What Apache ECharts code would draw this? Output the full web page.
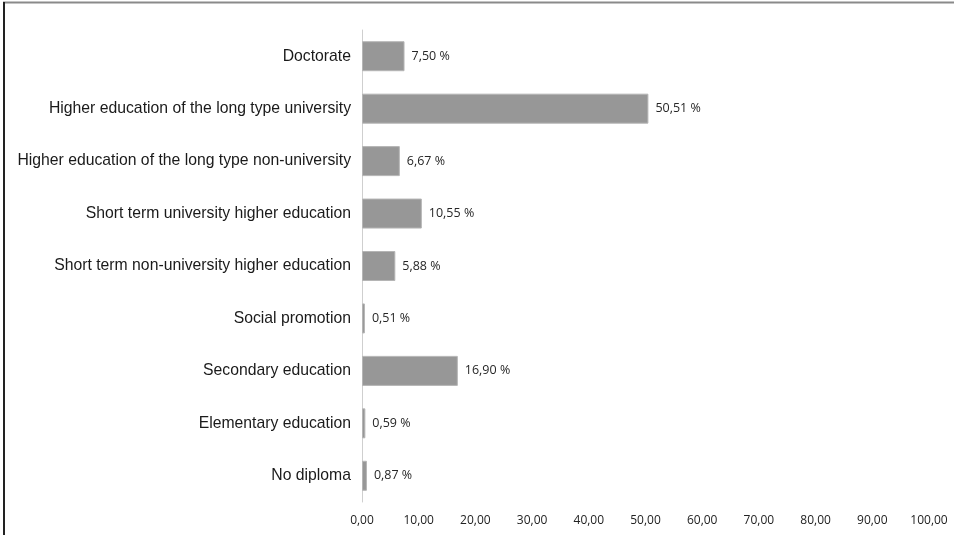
<!DOCTYPE html>
<html>
<head>
<meta charset="utf-8">
<script src="https://cdn.jsdelivr.net/npm/echarts@6/dist/echarts.min.js"></script>
<style>
  html, body { margin: 0; padding: 0; background: #fff; }
  #chart { width: 954px; height: 535px; }
</style>
</head>
<body>
<div id="chart"></div>
<script>
// Education levels, top to bottom as displayed
const categories = [
  'Doctorate',
  'Higher education of the long type university',
  'Higher education of the long type non-university',
  'Short term university higher education',
  'Short term non-university higher education',
  'Social promotion',
  'Secondary education',
  'Elementary education',
  'No diploma'
];
// Share of respondents (%)
const shares = [7.50, 50.51, 6.67, 10.55, 5.88, 0.51, 16.90, 0.59, 0.87];
const xTicks = { min: 0, max: 100, interval: 10 };

const fmt = v => v.toFixed(2).replace('.', ',');

const chart = echarts.init(document.getElementById('chart'));
chart.setOption({
  animation: false,
  backgroundColor: '#fff',
  grid: { left: 362, right: 25, top: 30, bottom: 33, containLabel: false },
  xAxis: {
    type: 'value',
    min: xTicks.min, max: xTicks.max, interval: xTicks.interval,
    axisLine: { show: false },
    axisTick: { show: false },
    splitLine: { show: false },
    axisLabel: {
      margin: 13,
      color: '#222',
      fontFamily: '"Liberation Sans Narrow", "Open Sans", sans-serif',
      fontSize: 12,
      formatter: v => fmt(v)
    }
  },
  yAxis: {
    type: 'category',
    inverse: true,
    data: categories,
    axisLine: { show: true, lineStyle: { color: '#cfcfcf', width: 1 } },
    axisTick: { show: false },
    axisLabel: {
      margin: 11,
      color: '#1a1a1a',
      fontFamily: '"Liberation Sans", Arial, sans-serif',
      fontSize: 15.75
    }
  },
  series: [{
    type: 'bar',
    data: shares,
    barWidth: 30,
    itemStyle: { color: '#979797', borderColor: '#b5b5b5', borderWidth: 1 },
    label: {
      show: true,
      position: 'right',
      distance: 7,
      color: '#262626',
      fontFamily: '"Liberation Sans Narrow", "Open Sans", sans-serif',
      fontSize: 12.5,
      formatter: p => fmt(p.value) + ' %'
    }
  }],
  graphic: [
    { type: 'line', shape: { x1: 3, y1: 2.5, x2: 954, y2: 2.5 }, style: { stroke: '#8a8a8a', lineWidth: 2 } },
    { type: 'line', shape: { x1: 4, y1: 2, x2: 4, y2: 535 }, style: { stroke: '#222', lineWidth: 2 } }
  ]
});
</script>
</body>
</html>
